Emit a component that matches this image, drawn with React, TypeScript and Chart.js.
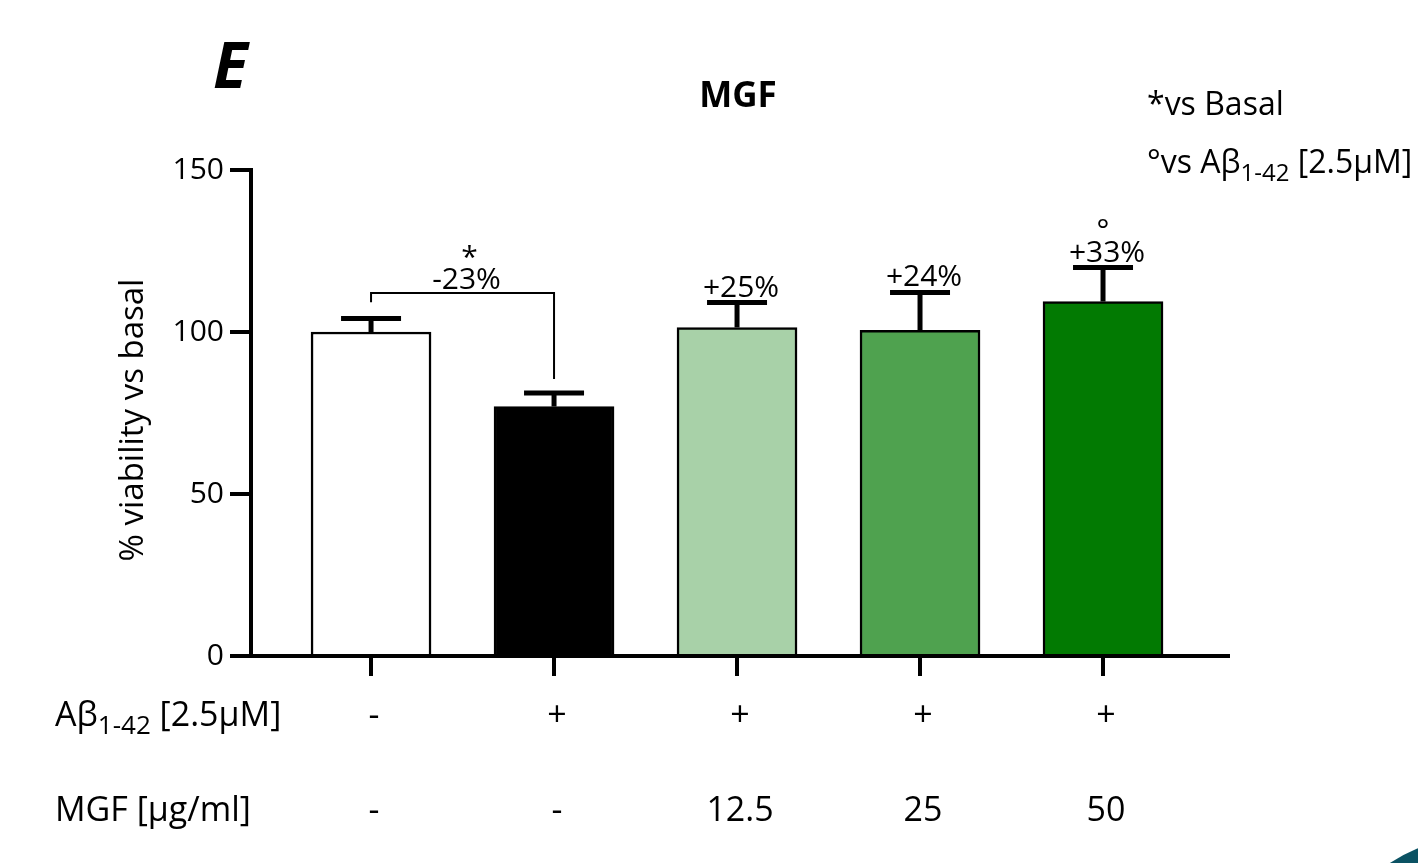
import React, { useEffect, useRef } from "react";
import { Chart, registerables } from "chart.js";

Chart.register(...registerables);

// Groups (x positions 0..4), mean viability (% of basal) and SEM
const groups = ["Basal", "Aβ1-42", "Aβ1-42 + MGF 12.5", "Aβ1-42 + MGF 25", "Aβ1-42 + MGF 50"];
const viability = [100, 77, 101.4, 100.5, 109.4];
const sem = [4.2, 4.2, 7.7, 11.7, 10.5];
const barColors = ["#ffffff", "#000000", "#a8d1a8", "#4fa24f", "#027a02"];

// Treatment rows printed under the axis
const abRow = ["-", "+", "+", "+", "+"];
const mgfRow = ["-", "-", "12.5", "25", "50"];

// Change labels above the error bars and significance marks
const changeLabels = ["", "", "+25%", "+24%", "+33%"];
const vsAbMarks = ["", "", "", "", "°"];
const vsBasalLabel = "-23%";

// Comparison bracket Basal vs Aβ (in axis units)
const bracketTop = 112;
const bracketLeftEnd = 109.2;
const bracketRightEnd = 85.5;

const FONT = "'Open Sans', Lato, sans-serif";
const ROW_SIZE = 34;
const LEGEND_SIZE = 32;

const annotate = {
  id: "annotate",
  afterDatasetsDraw(chart: any) {
    const { ctx } = chart;
    const x = chart.scales.x;
    const y = chart.scales.y;
    ctx.save();
    ctx.strokeStyle = "#000";
    ctx.fillStyle = "#000";

    // error bars (upper only)
    viability.forEach((v, i) => {
      const cx = x.getPixelForValue(i);
      const y0 = y.getPixelForValue(v);
      const y1 = y.getPixelForValue(v + sem[i]);
      ctx.lineWidth = 5;
      ctx.beginPath();
      ctx.moveTo(cx, y0);
      ctx.lineTo(cx, y1);
      ctx.stroke();
      ctx.beginPath();
      ctx.moveTo(cx - 30, y1);
      ctx.lineTo(cx + 30, y1);
      ctx.stroke();

      ctx.font = `30px ${FONT}`;
      ctx.textAlign = "center";
      ctx.textBaseline = "alphabetic";
      if (changeLabels[i]) ctx.fillText(changeLabels[i], cx + 4, y1 - 6);
      if (vsAbMarks[i]) ctx.fillText(vsAbMarks[i], cx, y1 - 28);
    });

    // bracket Basal vs Aβ
    const bx0 = x.getPixelForValue(0);
    const bx1 = x.getPixelForValue(1);
    const by = y.getPixelForValue(bracketTop);
    ctx.lineWidth = 2;
    ctx.beginPath();
    ctx.moveTo(bx0, y.getPixelForValue(bracketLeftEnd));
    ctx.lineTo(bx0, by);
    ctx.lineTo(bx1, by);
    ctx.lineTo(bx1, y.getPixelForValue(bracketRightEnd));
    ctx.stroke();
    const mid = (bx0 + bx1) / 2 + 4;
    ctx.font = `30px ${FONT}`;
    ctx.textAlign = "center";
    ctx.textBaseline = "alphabetic";
    ctx.fillText(vsBasalLabel, mid, by - 4);
    ctx.fillText("*", mid + 3, by - 26);

    ctx.restore();
  },
  afterDraw(chart: any) {
    const { ctx } = chart;
    const x = chart.scales.x;
    const y = chart.scales.y;
    ctx.save();
    ctx.fillStyle = "#000";

    // panel letter and title
    ctx.font = `italic bold 64px ${FONT}`;
    ctx.textAlign = "left";
    ctx.textBaseline = "alphabetic";
    ctx.fillText("E", 213, 88);
    ctx.font = `bold 35px ${FONT}`;
    ctx.textAlign = "center";
    ctx.textBaseline = "middle";
    ctx.fillText("MGF", 738, 97);

    // y axis title
    ctx.save();
    ctx.translate(134, y.getPixelForValue(75) + 7);
    ctx.rotate(-Math.PI / 2);
    ctx.font = `33px ${FONT}`;
    ctx.textAlign = "center";
    ctx.textBaseline = "middle";
    ctx.fillText("% viability vs basal", 0, 0);
    ctx.restore();

    // Aβ1-42 label with subscript
    const abLabel = (x0: number, yc: number, prefix: string, size: number) => {
      ctx.textAlign = "left";
      ctx.textBaseline = "middle";
      ctx.font = `${size}px ${FONT}`;
      let cx = x0;
      const head = prefix + "Aβ";
      ctx.fillText(head, cx, yc);
      cx += ctx.measureText(head).width;
      const sub = Math.round(size * 0.75);
      ctx.font = `${sub}px ${FONT}`;
      ctx.fillText("1-42", cx, yc + size * 0.32);
      cx += ctx.measureText("1-42").width;
      ctx.font = `${size}px ${FONT}`;
      ctx.fillText(" [2.5μM]", cx, yc);
    };

    // legend
    ctx.font = `${LEGEND_SIZE}px ${FONT}`;
    ctx.textAlign = "left";
    ctx.textBaseline = "middle";
    ctx.fillText("*vs Basal", 1147, 106);
    abLabel(1147, 164, "°vs ", LEGEND_SIZE);

    // treatment rows
    abLabel(55, 716, "", ROW_SIZE);
    ctx.font = `${ROW_SIZE}px ${FONT}`;
    ctx.textAlign = "left";
    ctx.textBaseline = "middle";
    ctx.fillText("MGF [μg/ml]", 55, 811);
    ctx.textAlign = "center";
    abRow.forEach((t, i) => ctx.fillText(t, x.getPixelForValue(i) + 3, 716));
    mgfRow.forEach((t, i) => ctx.fillText(t, x.getPixelForValue(i) + 3, 811));

    // corner ornament
    ctx.fillStyle = "#0b5263";
    ctx.beginPath();
    ctx.arc(1480, 1000, 164, 0, Math.PI * 2);
    ctx.fill();

    ctx.restore();
  },
};

export default function App() {
  const ref = useRef<HTMLCanvasElement | null>(null);

  useEffect(() => {
    document.body.style.margin = "0";
    const canvas = ref.current;
    if (!canvas) return;
    const chart = new Chart(canvas, {
      type: "bar",
      data: {
        datasets: [
          {
            label: "% viability",
            data: viability.map((v, i) => ({ x: i, y: v })),
            backgroundColor: barColors,
            borderColor: "#000",
            borderWidth: 2.5,
            barThickness: 120,
          },
        ],
        labels: groups,
      },
      plugins: [annotate],
      options: {
        animation: false,
        responsive: false,
        devicePixelRatio: 1,
        layout: { padding: { top: 170, right: 190, left: 0, bottom: 0 } },
        plugins: {
          legend: { display: false },
          tooltip: { enabled: false },
          title: { display: false },
        },
        scales: {
          x: {
            type: "linear",
            min: -0.656,
            max: 4.683,
            offset: false,
            ticks: { stepSize: 1, includeBounds: false, display: false },
            afterBuildTicks: (s: any) => {
              s.ticks = s.ticks.filter((t: any) => Number.isInteger(t.value));
            },
            grid: {
              offset: false,
              drawOnChartArea: false,
              drawTicks: true,
              tickLength: 20,
              lineWidth: 4,
              color: "#000",
            },
            border: { display: true, width: 4, color: "#000" },
            afterFit: (s: any) => {
              s.height = 863 - 656;
            },
          },
          y: {
            min: 0,
            max: 150,
            ticks: {
              stepSize: 50,
              color: "#000",
              padding: 6,
              font: { family: FONT, size: 30 },
            },
            grid: {
              drawOnChartArea: false,
              drawTicks: true,
              tickLength: 21,
              lineWidth: 4,
              color: "#000",
            },
            border: { display: true, width: 4, color: "#000" },
            afterFit: (s: any) => {
              s.width = 251;
            },
          },
        },
      },
    } as any);
    return () => chart.destroy();
  }, []);

  return (
    <div style={{ position: "fixed", left: 0, top: 0, width: 1418, height: 863, background: "#fff" }}>
      <canvas ref={ref} width={1418} height={863} style={{ width: 1418, height: 863 }} />
    </div>
  );
}
